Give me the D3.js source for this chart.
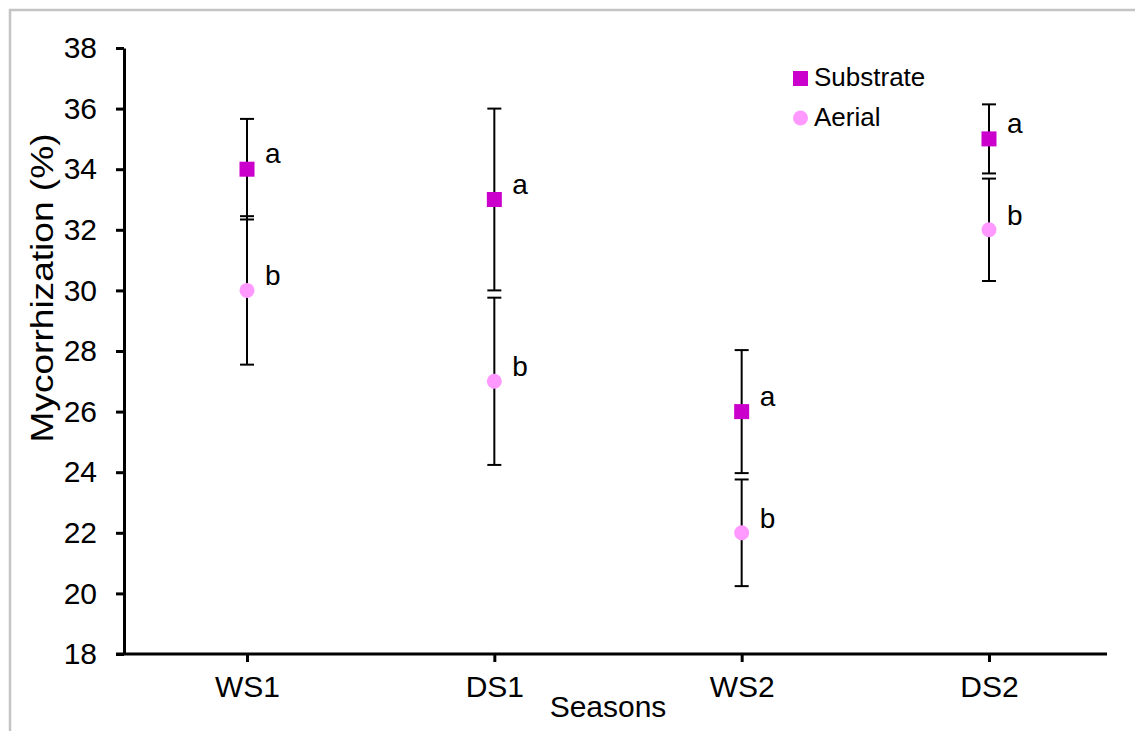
<!DOCTYPE html>
<html>
<head>
<meta charset="utf-8">
<script src="https://cdn.jsdelivr.net/npm/d3@7"></script>
<style>
  body { margin: 0; background: #fff; }
  svg { display: block; font-family: "Liberation Sans", Arial, sans-serif; }
</style>
</head>
<body>
<svg width="1135" height="731"></svg>
<script>
// data
let seasons = ["WS1", "DS1", "WS2", "DS2"];
let substrate = [34, 33, 26, 35];
let substrateErr = [1.66, 3.0, 2.03, 1.14];
let aerial = [30, 27, 22, 32];
let aerialErr = [2.45, 2.76, 1.76, 1.69];
let substrateLetters = ["a", "a", "a", "a"];
let aerialLetters = ["b", "b", "b", "b"];
let yTicks = [18, 20, 22, 24, 26, 28, 30, 32, 34, 36, 38];

let width = 1135;
let height = 731;

let svg = d3.select("svg");

// light grey frame round the picture
svg.append("rect")
    .attr("x", 10).attr("y", 10)
    .attr("width", width + 20).attr("height", height + 20)
    .attr("fill", "none")
    .attr("stroke", "#c4c4c4")
    .attr("stroke-width", 2.5);

let scaleX = d3.scalePoint()
    .domain(seasons)
    .range([247, 989]);

let scaleY = d3.scaleLinear()
    .domain([18, 38])
    .range([654, 48]);

// y axis
let gy = svg.append("g")
    .attr("transform", "translate(124, 0)")
    .call(d3.axisLeft(scaleY).tickValues(yTicks).tickSize(8).tickSizeOuter(0).tickPadding(19));
gy.select(".domain").attr("stroke-width", 3).attr("stroke", "#000");
gy.selectAll(".tick line").attr("stroke-width", 3).attr("stroke", "#000");
gy.selectAll(".tick text")
    .attr("font-size", 30)
    .attr("font-family", "Liberation Sans, Arial, sans-serif")
    .attr("fill", "#000");

// x axis
let gx = svg.append("g")
    .attr("transform", "translate(0, 654)")
    .call(d3.axisBottom(scaleX).tickSize(8).tickSizeOuter(0).tickPadding(14));
gx.select(".domain").remove();
gx.append("line")
    .attr("x1", 116).attr("x2", 1107)
    .attr("stroke", "#000").attr("stroke-width", 3);
gx.selectAll(".tick line").attr("stroke-width", 3).attr("stroke", "#000");
gx.selectAll(".tick text")
    .attr("font-size", 30)
    .attr("font-family", "Liberation Sans, Arial, sans-serif")
    .attr("fill", "#000");

// axis titles
svg.append("text")
    .attr("x", 608).attr("y", 717)
    .attr("text-anchor", "middle")
    .attr("font-size", 30)
    .text("Seasons");

svg.append("text")
    .attr("transform", "translate(53, 288) rotate(-90)")
    .attr("text-anchor", "middle")
    .attr("font-size", 32)
    .attr("textLength", 309)
    .attr("lengthAdjust", "spacingAndGlyphs")
    .text("Mycorrhization (%)");

// error bars
function errorBars(vals, errs) {
    let g = svg.append("g").attr("stroke", "#000").attr("stroke-width", 2);
    vals.forEach(function(v, i) {
        let x = scaleX(seasons[i]);
        g.append("line")
            .attr("x1", x).attr("x2", x)
            .attr("y1", scaleY(v - errs[i])).attr("y2", scaleY(v + errs[i]));
        [v - errs[i], v + errs[i]].forEach(function(e) {
            g.append("line")
                .attr("x1", x - 7).attr("x2", x + 7)
                .attr("y1", scaleY(e)).attr("y2", scaleY(e));
        });
    });
}
errorBars(substrate, substrateErr);
errorBars(aerial, aerialErr);

// markers
svg.selectAll(".sub")
    .data(substrate)
    .enter()
    .append("rect")
    .attr("x", (d, i) => scaleX(seasons[i]) - 7.5)
    .attr("y", d => scaleY(d) - 7.5)
    .attr("width", 15).attr("height", 15)
    .attr("fill", "#cc00cc");

svg.selectAll(".aer")
    .data(aerial)
    .enter()
    .append("circle")
    .attr("cx", (d, i) => scaleX(seasons[i]))
    .attr("cy", d => scaleY(d))
    .attr("r", 7.5)
    .attr("fill", "#ff99ff");

// significance letters
svg.selectAll(".la")
    .data(substrate)
    .enter()
    .append("text")
    .attr("x", (d, i) => scaleX(seasons[i]) + 18)
    .attr("y", d => scaleY(d) - 6)
    .attr("font-size", 28)
    .text((d, i) => substrateLetters[i]);

svg.selectAll(".lb")
    .data(aerial)
    .enter()
    .append("text")
    .attr("x", (d, i) => scaleX(seasons[i]) + 18)
    .attr("y", d => scaleY(d) - 5)
    .attr("font-size", 28)
    .text((d, i) => aerialLetters[i]);

// legend
let legend = svg.append("g");
legend.append("rect")
    .attr("x", 793).attr("y", 71)
    .attr("width", 15).attr("height", 15)
    .attr("fill", "#cc00cc");
legend.append("text")
    .attr("x", 814).attr("y", 86)
    .attr("font-size", 26)
    .text("Substrate");
legend.append("circle")
    .attr("cx", 800.5).attr("cy", 118)
    .attr("r", 7.5)
    .attr("fill", "#ff99ff");
legend.append("text")
    .attr("x", 814).attr("y", 126)
    .attr("font-size", 26)
    .text("Aerial");
</script>
</body>
</html>
